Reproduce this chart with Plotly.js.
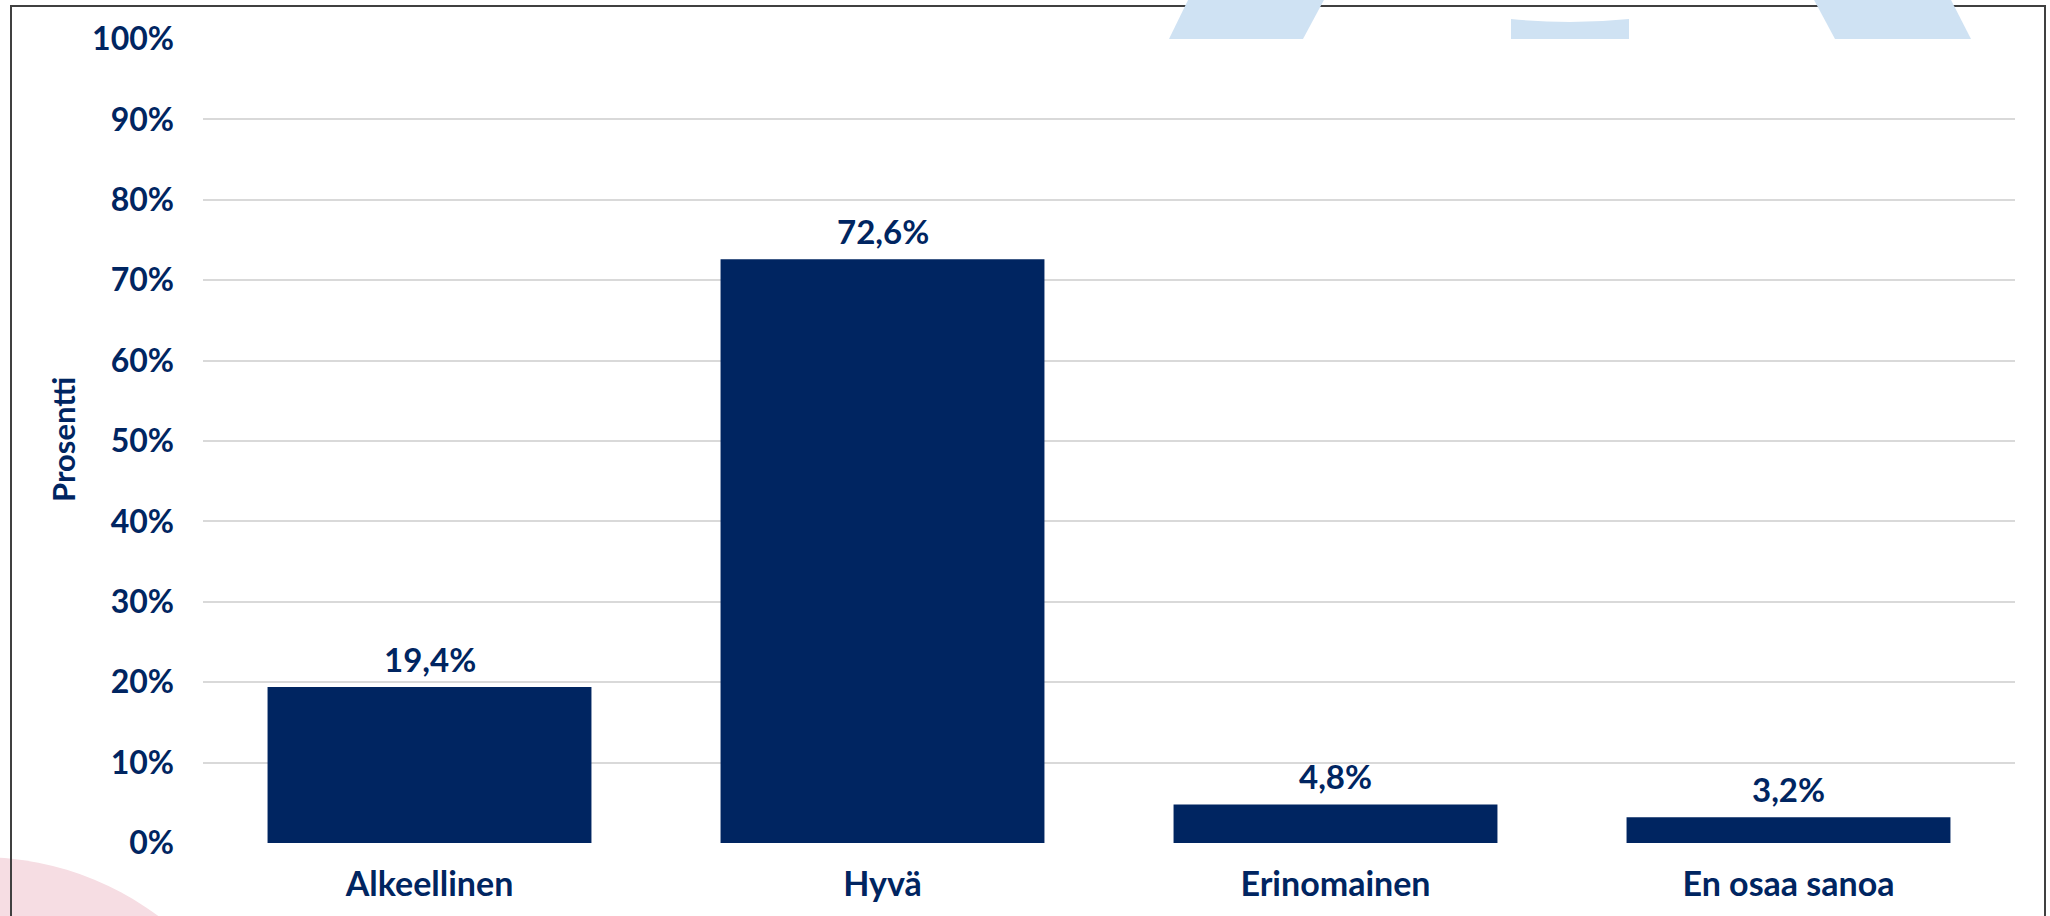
<!DOCTYPE html>
<html>
<head>
<meta charset="utf-8">
<script src="https://cdn.plot.ly/plotly-3.0.1.min.js"></script>
<style>
html,body{margin:0;padding:0;background:#fff;}
#chart{width:2050px;height:916px;}
</style>
</head>
<body>
<div id="chart"></div>
<script>
const categories = ['Alkeellinen', 'Hyvä', 'Erinomainen', 'En osaa sanoa'];
const values = [19.4, 72.6, 4.8, 3.2];
const tickVals = [0, 10, 20, 30, 40, 50, 60, 70, 80, 90, 100];
const tickText = ['0%', '10%', '20%', '30%', '40%', '50%', '60%', '70%', '80%', '90%', '100%'];

const W = 2050, H = 916;
const M = {l: 203, r: 35, t: 39, b: 73};
const PW = W - M.l - M.r, PH = H - M.t - M.b;
const px = x => (x - M.l) / PW;
const py = y => (H - M.b - y) / PH;
const navy = '#002561';
const fontFam = 'Lato, "DejaVu Sans", sans-serif';

function poly(pts) {
  return 'M ' + pts.map(p => px(p[0]).toFixed(5) + ' ' + py(p[1]).toFixed(5)).join(' L ') + ' Z';
}

const shapes = [
  {type: 'circle', xref: 'paper', yref: 'paper', layer: 'below',
   x0: px(-319), x1: px(279), y0: py(1455), y1: py(857),
   fillcolor: '#f6dde3', line: {width: 0}},
  {type: 'rect', xref: 'paper', yref: 'paper', layer: 'below',
   x0: px(11), x1: px(2045), y0: py(940), y1: py(6),
   fillcolor: 'rgba(0,0,0,0)', line: {color: '#404040', width: 2}},
  {type: 'path', xref: 'paper', yref: 'paper', layer: 'below',
   path: poly([[1189, -2], [1325, -2], [1303, 39], [1169, 39]]),
   fillcolor: '#cfe2f3', line: {width: 0}},
  {type: 'path', xref: 'paper', yref: 'paper', layer: 'below',
   path: 'M ' + px(1511) + ' ' + py(19) + ' Q ' + px(1570) + ' ' + py(25) + ' ' + px(1629) + ' ' + py(19) +
         ' L ' + px(1629) + ' ' + py(39) + ' L ' + px(1511) + ' ' + py(39) + ' Z',
   fillcolor: '#cfe2f3', line: {width: 0}},
  {type: 'path', xref: 'paper', yref: 'paper', layer: 'below',
   path: poly([[1813, -2], [1950, -2], [1971, 39], [1835, 39]]),
   fillcolor: '#cfe2f3', line: {width: 0}}
];

const annotations = categories.map((c, i) => ({
  x: c, y: values[i], xref: 'x', yref: 'y',
  text: values[i].toFixed(1).replace('.', ',') + '%',
  showarrow: false, yanchor: 'bottom', yshift: 6,
  font: {family: fontFam, size: 33, color: navy, weight: 700}
}));

annotations.push({
  xref: 'paper', yref: 'paper', x: px(63), y: py(440),
  text: 'Prosentti', textangle: -90, showarrow: false,
  xanchor: 'center', yanchor: 'middle',
  font: {family: fontFam, size: 31, color: navy, weight: 700}
});

const trace = {
  type: 'bar', x: categories, y: values,
  marker: {color: navy, line: {width: 0}},
  hoverinfo: 'skip'
};

const layout = {
  width: W, height: H,
  margin: M,
  paper_bgcolor: 'rgba(0,0,0,0)', plot_bgcolor: 'rgba(0,0,0,0)',
  bargap: 0.285,
  showlegend: false,
  xaxis: {
    type: 'category', showgrid: false, zeroline: false, showline: false,
    ticks: '', ticklabelstandoff: 18,
    tickfont: {family: fontFam, size: 34, color: navy, weight: 700}
  },
  yaxis: {
    range: [0, 100], tickvals: tickVals, ticktext: tickText,
    showgrid: true, gridcolor: '#d9d9d9', gridwidth: 2,
    zeroline: false, showline: false, ticks: '', ticklabelstandoff: 28,
    tickfont: {family: fontFam, size: 32, color: navy, weight: 700}
  },
  shapes: shapes,
  annotations: annotations
};

Plotly.newPlot('chart', [trace], layout, {displayModeBar: false, staticPlot: true});
</script>
</body>
</html>
